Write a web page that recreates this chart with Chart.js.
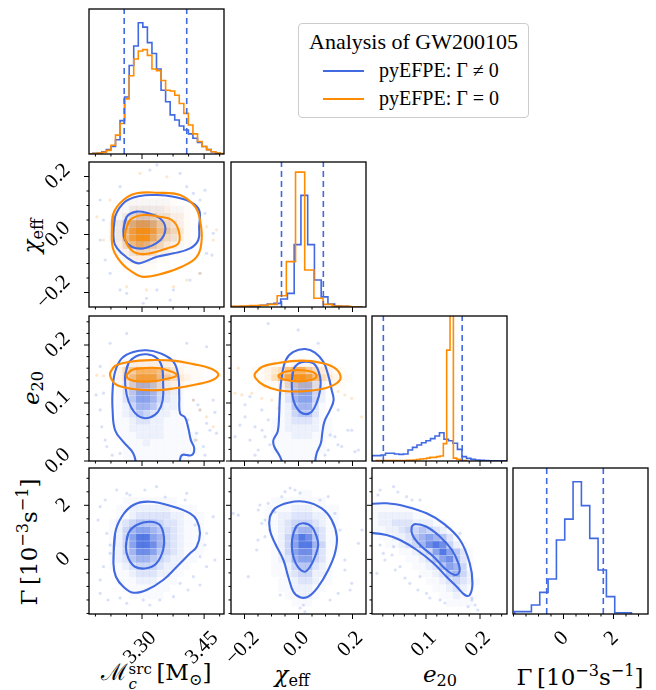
<!DOCTYPE html>
<html>
<head>
<meta charset="utf-8">
<script src="https://cdn.jsdelivr.net/npm/chart.js@4.4.0/dist/chart.umd.min.js"></script>
<style>
body{margin:0;background:#fff;width:656px;height:690px;position:relative;overflow:hidden}
.panel{position:absolute}
.t{position:absolute;transform:translate(-50%,-50%);font-family:'DejaVu Serif',serif;font-size:23px;white-space:nowrap;line-height:1;color:#000}
.t sub{font-size:0.7em;vertical-align:-0.3em}
.t sup{font-size:0.7em;vertical-align:0.55em}
.ty{transform:translate(-50%,-50%) rotate(-90deg)}
.st{display:inline-flex;flex-direction:column;font-size:0.65em;line-height:1;vertical-align:0.42em;margin-left:1px}
#legend{position:absolute;left:298px;top:23px;width:229px;height:93px;border:1px solid #ccc;border-radius:4px;background:#fff;font-family:'Liberation Serif',serif;color:#000}
#legend .lt{position:absolute;left:0;right:0;top:5px;text-align:center;font-size:22px}
#legend .le{position:absolute;left:80px;font-size:20px;line-height:1}
#legend .sw{position:absolute;left:24px;width:41px;height:2px}
</style>
</head>
<body>
<div id="legend">
  <div class="lt">Analysis of GW200105</div>
  <span class="sw" style="top:46px;background:#4169e1"></span>
  <div class="le" style="top:36px">pyEFPE: Γ ≠ 0</div>
  <span class="sw" style="top:74px;background:#ff8c00"></span>
  <div class="le" style="top:64px">pyEFPE: Γ = 0</div>
</div>

<div class="t" style="left:156px;top:676px"><span>ℳ</span><span class="st"><span>src</span><span><i>c</i></span></span>&thinsp;[M<sub>⊙</sub>]</div>
<div class="t" style="left:292px;top:676px"><i>χ</i><sub>eff</sub></div>
<div class="t" style="left:440px;top:676px"><i>e</i><sub>20</sub></div>
<div class="t" style="left:580px;top:676px">Γ&thinsp;[10<sup>−3</sup>s<sup>−1</sup>]</div>
<div class="t ty" style="left:33px;top:236px"><i>χ</i><sub>eff</sub></div>
<div class="t ty" style="left:33px;top:388px"><i>e</i><sub>20</sub></div>
<div class="t ty" style="left:28px;top:542px">Γ&thinsp;[10<sup>−3</sup>s<sup>−1</sup>]</div>

<script>
const blue = '#4169e1', orange = '#ff8c00';
const blueRgb = '65,105,225', orangeRgb = '255,140,0';

// axis ranges
const mcRange = [3.172, 3.498];
const chiRange = [-0.25, 0.25];
const eRange = [0, 0.25];
const gammaRange = [-2.02, 3.38];

// ticks
const mcMajor = [3.30, 3.45];
const mcMinor = [3.1875, 3.225, 3.2625, 3.3375, 3.375, 3.4125, 3.4875];
const mcLabels = ['3.30', '3.45'];
const chiMajor = [-0.2, 0, 0.2];
const chiMinor = [-0.15, -0.1, -0.05, 0.05, 0.1, 0.15];
const chiLabels = ['\u22120.2', '0.0', '0.2'];
const eMajorX = [0.1, 0.2];
const eLabelsX = ['0.1', '0.2'];
const eMajorY = [0, 0.1, 0.2];
const eLabelsY = ['0.0', '0.1', '0.2'];
const eMinor = [0.02, 0.04, 0.06, 0.08, 0.12, 0.14, 0.16, 0.18, 0.22, 0.24];
const gammaMajor = [0, 2];
const gammaMinor = [-2, -1.5, -1, -0.5, 0.5, 1, 1.5, 2.5, 3];
const gammaLabels = ['0', '2'];

// 1d histograms: [first edge, bin width] and bar heights (fraction of panel)
const mcBins = [3.170, 0.011];
const mcHistBlue = [0.002, 0.005, 0.007, 0.016, 0.03, 0.052, 0.098, 0.23, 0.393, 0.61, 0.745, 0.905, 0.875, 0.768, 0.693, 0.586, 0.44, 0.36, 0.27, 0.234, 0.193, 0.166, 0.139, 0.109, 0.08, 0.052, 0.03, 0.016, 0.007, 0.002];
const mcHistOrange = [0.002, 0.003, 0.006, 0.012, 0.025, 0.06, 0.13, 0.21, 0.38, 0.54, 0.655, 0.71, 0.72, 0.68, 0.586, 0.575, 0.507, 0.44, 0.434, 0.405, 0.348, 0.28, 0.2, 0.139, 0.086, 0.052, 0.03, 0.016, 0.007, 0.003];
const chiBinsBlue = [-0.241, 0.025];
const chiHistBlue = [0.003, 0.003, 0.005, 0.007, 0.012, 0.02, 0.025, 0.055, 0.094, 0.43, 0.77, 0.43, 0.186, 0.07, 0.02, 0.007, 0.004, 0.002, 0.001];
const chiBinsOrange = [-0.249, 0.034];
const chiHistOrange = [0.004, 0.006, 0.01, 0.012, 0.018, 0.078, 0.313, 0.93, 0.255, 0.06, 0.018, 0.007, 0.004, 0.002];
const eBinsBlue = [0, 0.00833];
const eHistBlue = [0.037, 0.037, 0.041, 0.053, 0.053, 0.048, 0.046, 0.048, 0.076, 0.094, 0.11, 0.126, 0.14, 0.154, 0.172, 0.195, 0.15, 0.14, 0.122, 0.08, 0.03, 0.018, 0.011, 0.007, 0.005, 0.003, 0.002, 0.002, 0.001, 0.001];
const eBinsOrange = [0.0081, 0.0062];
const eHistOrange = [0.003, 0.003, 0.003, 0.003, 0.003, 0.003, 0.003, 0.003, 0.003, 0.004, 0.005, 0.007, 0.01, 0.014, 0.016, 0.02, 0.025, 0.025, 0.03, 0.035, 0.12, 0.765, 1.5, 0.02, 0.012, 0.005, 0.003];
const gammaBins = [-1.95, 0.3333];
const gammaHist = [0.016, 0.016, 0.062, 0.148, 0.24, 0.507, 0.65, 0.906, 0.742, 0.518, 0.301, 0.119, 0.009, 0.009];

// dashed quantiles (blue run)
const mcQuant = [3.257, 3.408];
const chiQuant = [-0.063, 0.092];
const eQuant = [0.021, 0.167];
const gammaQuant = [-0.672, 1.592];

// 2d densities, 20x20 bins over the axis ranges, rows from top, 0-9
const mcChiBlue = [
  '00000000000000000000','00000000000000000000','00000000000000000000','00000000000000000000',
  '00000000000000000000','00000111111100000000','00001122222111000000','00001234432211000000',
  '00012356653221000000','00012357753321000000','00012346643221000000','00001234432111000000',
  '00001122221100000000','00000111110000000000','00000000000000000000','00000000000000000000',
  '00000000000000000000','00000000000000000000','00000000000000000000','00000000000000000000'];
const mcChiOrange = [
  '00000000000000000000','00000000000000000000','00000000000000000000','00000000000000000000',
  '00000000000000000000','00000111111110000000','00001122222211100000','00011234443322100000',
  '00012467765432100000','00012689986543100000','00012689975432100000','00012467654321100000',
  '00001234432211000000','00001122211100000000','00000111110000000000','00000000000000000000',
  '00000000000000000000','00000000000000000000','00000000000000000000','00000000000000000000'];
const mcEBlue = [
  '00000000000000000000','00000000000000000000','00000000000000000000','00000000000000000000',
  '00000000000000000000','00000000000000000000','00000111111100000000','00000122222110000000',
  '00000134443210000000','00001246653210000000','00001357764321000000','00001357764321000000',
  '00001246653221000000','00001235432211000000','00001123322111000000','00001122222111100000',
  '00001112222111110000','00000111211111110000','00000111111111110000','00000111111111100000'];
const mcEOrange = [
  '00000000000000000000','00000000000000000000','00000000000000000000','00000000000000000000',
  '00000000000000000000','00000000000000000000','00011122222221110000','00012457776432111000',
  '00012468886543211000','00001233333222110000','00000111111111000000','00000000000000000000',
  '00000000000000000000','00000000000000000000','00000000000000000000','00000000000000000000',
  '00000000000000000000','00000000000000000000','00000000000000000000','00000000000000000000'];
const chiEBlue = [
  '00000000000000000000','00000000000000000000','00000000000000000000','00000000000000000000',
  '00000000000000000000','00000000000000000000','00000000011110000000','00000000122210000000',
  '00000001234421000000','00000001356631000000','00000001367742000000','00000001367742000000',
  '00000001256631000000','00000001245531000000','00000011233321100000','00000011222221100000',
  '00000011122211100000','00000011111111000000','00000011111111000000','00000001111110000000'];
const chiEOrange = [
  '00000000000000000000','00000000000000000000','00000000000000000000','00000000000000000000',
  '00000000000000000000','00000000000000000000','00000011111111100000','00011234677543211000',
  '00011246899864321100','00001112333321111000','00000001111111000000','00000000000000000000',
  '00000000000000000000','00000000000000000000','00000000000000000000','00000000000000000000',
  '00000000000000000000','00000000000000000000','00000000000000000000','00000000000000000000'];
const mcGammaBlue = [
  '00000000000000000000','00000000000000000000','00000000000000000000','00000000000000000000',
  '00000111111110000000','00001122222211110000','00001123333322111000','00012345554332111000',
  '00012467765432111000','00012479976432111000','00012479986432111000','00012468875432111000',
  '00012356654322110000','00011234443221100000','00001123332211000000','00001112221110000000',
  '00000111111100000000','00000011111000000000','00000000000000000000','00000000000000000000'];
const chiGammaBlue = [
  '00000000000000000000','00000000000000000000','00000000000000000000','00000000001100000000',
  '00000011111111000000','00000111122211110000','00000112233322110000','00000112344432110000',
  '00000012356643110000','00000012479853110000','00000012479964110000','00000012478853110000',
  '00000012367743100000','00000011245532100000','00000011234422100000','00000001123321100000',
  '00000001122211000000','00000000112210000000','00000000011100000000','00000000000000000000'];
const eGammaBlue = [
  '00000000000000000000','00000000000000000000','00000000000000000000','00000000000000000000',
  '00000000000000000000','11111100000000000000','12222211100000000000','12233322211000000000',
  '11223445432100000000','01122356765310000000','00112346898421000000','00001123479753100000',
  '00000112357853100000','00000011235764100000','00000001123564200000','00000000112343210000',
  '00000000011232100000','00000000001121100000','00000000000111100000','00000000000000000000'];

// contours [x, y]
const mcChiBlueOuter = [[3.231,0.004],[3.235,0.062],[3.259,0.113],[3.295,0.133],[3.336,0.136],[3.376,0.130],[3.416,0.113],[3.438,0.084],[3.438,0.027],[3.436,-0.019],[3.416,-0.048],[3.376,-0.065],[3.336,-0.077],[3.295,-0.099],[3.279,-0.094],[3.251,-0.065],[3.235,-0.036]];
const mcChiBlueInner = [[3.255,0.016],[3.263,0.061],[3.287,0.079],[3.315,0.073],[3.343,0.056],[3.356,0.027],[3.351,-0.008],[3.335,-0.030],[3.303,-0.048],[3.275,-0.042],[3.259,-0.019]];
const mcChiOrangeOuter = [[3.227,0.004],[3.231,0.073],[3.255,0.119],[3.287,0.142],[3.336,0.144],[3.392,0.136],[3.428,0.096],[3.440,0.05],[3.444,-0.019],[3.432,-0.077],[3.396,-0.111],[3.351,-0.134],[3.303,-0.146],[3.275,-0.128],[3.251,-0.099],[3.231,-0.053]];
const mcChiOrangeInner = [[3.261,0.016],[3.271,0.05],[3.303,0.067],[3.343,0.061],[3.372,0.05],[3.388,0.016],[3.388,-0.030],[3.360,-0.048],[3.319,-0.065],[3.287,-0.065],[3.267,-0.042],[3.259,-0.013]];
const mcEBlueOuter = [[3.287,-0.01],[3.279,0.013],[3.255,0.033],[3.235,0.053],[3.229,0.088],[3.229,0.122],[3.235,0.154],[3.251,0.177],[3.279,0.188],[3.311,0.191],[3.343,0.186],[3.376,0.171],[3.388,0.145],[3.390,0.111],[3.392,0.082],[3.404,0.075],[3.412,0.056],[3.418,0.036],[3.426,0.022],[3.420,0.010],[3.396,0.010],[3.390,-0.01]];
const mcEBlueInner = [[3.259,0.145],[3.267,0.168],[3.287,0.181],[3.311,0.184],[3.335,0.178],[3.348,0.163],[3.351,0.134],[3.350,0.105],[3.339,0.085],[3.319,0.075],[3.295,0.076],[3.275,0.091],[3.263,0.114]];
const mcEOrangeOuter = [[3.223,0.152],[3.235,0.164],[3.271,0.171],[3.319,0.174],[3.376,0.173],[3.424,0.167],[3.464,0.160],[3.484,0.150],[3.472,0.140],[3.424,0.131],[3.376,0.125],[3.327,0.122],[3.279,0.124],[3.239,0.131],[3.227,0.140]];
const mcEOrangeInner = [[3.263,0.148],[3.275,0.157],[3.303,0.160],[3.343,0.160],[3.372,0.154],[3.384,0.148],[3.368,0.143],[3.335,0.138],[3.295,0.137],[3.271,0.140]];
const chiEBlueOuter = [[-0.053,-0.01],[-0.069,0.008],[-0.090,0.025],[-0.093,0.036],[-0.077,0.051],[-0.072,0.076],[-0.069,0.111],[-0.062,0.145],[-0.047,0.174],[-0.019,0.188],[0.024,0.193],[0.061,0.187],[0.092,0.171],[0.110,0.148],[0.123,0.122],[0.130,0.105],[0.117,0.088],[0.096,0.068],[0.088,0.048],[0.083,0.031],[0.067,0.013],[0.059,-0.01]];
const chiEBlueInner = [[-0.025,0.134],[-0.019,0.157],[-0.001,0.168],[0.030,0.171],[0.061,0.166],[0.080,0.145],[0.080,0.122],[0.067,0.100],[0.049,0.085],[0.024,0.081],[-0.001,0.088],[-0.019,0.105]];
const chiEOrangeOuter = [[-0.161,0.151],[-0.136,0.162],[-0.075,0.169],[0.012,0.173],[0.086,0.169],[0.135,0.160],[0.156,0.145],[0.141,0.134],[0.086,0.124],[0.012,0.120],[-0.075,0.122],[-0.130,0.131],[-0.159,0.143]];
const chiEOrangeInner = [[-0.075,0.147],[-0.05,0.154],[-0.001,0.157],[0.049,0.154],[0.067,0.147],[0.049,0.140],[-0.001,0.137],[-0.05,0.140]];
const mcGammaOuter = [[3.231,-0.145],[3.235,0.964],[3.251,1.578],[3.279,2.011],[3.319,2.133],[3.376,1.948],[3.416,1.704],[3.432,1.456],[3.440,0.964],[3.432,0.469],[3.416,0.225],[3.384,-0.271],[3.351,-0.763],[3.311,-1.132],[3.279,-1.232],[3.255,-1.010],[3.237,-0.641]];
const mcGammaInner = [[3.261,0.469],[3.267,0.964],[3.287,1.271],[3.319,1.393],[3.343,1.271],[3.353,0.839],[3.351,0.347],[3.335,-0.145],[3.311,-0.330],[3.283,-0.271],[3.267,0.040]];
const chiGammaOuter = [[-0.106,1.578],[-0.087,1.889],[-0.038,2.096],[0.024,2.133],[0.086,1.889],[0.123,1.456],[0.142,0.839],[0.135,0.225],[0.110,-0.393],[0.073,-1.010],[0.036,-1.380],[0.006,-1.402],[-0.019,-1.195],[-0.038,-0.641],[-0.056,-0.023],[-0.087,0.595],[-0.106,1.086]];
const chiGammaInner = [[-0.019,0.964],[-0.007,1.234],[0.018,1.334],[0.049,1.209],[0.067,0.839],[0.073,0.532],[0.061,0.099],[0.043,-0.271],[0.022,-0.456],[-0.003,-0.271],[-0.019,0.099],[-0.025,0.532]];
const eGammaOuter = [[-0.012,2.04],[0.027,2.074],[0.064,1.948],[0.101,1.704],[0.132,1.334],[0.163,0.717],[0.181,-0.145],[0.186,-0.885],[0.181,-1.317],[0.172,-1.317],[0.157,-1.010],[0.138,-0.641],[0.114,-0.145],[0.083,0.347],[0.052,0.717],[0.027,0.902],[-0.012,1.0]];
const eGammaInner = [[0.0735,1.209],[0.0796,1.308],[0.101,1.209],[0.126,0.839],[0.148,0.347],[0.160,-0.145],[0.162,-0.456],[0.154,-0.578],[0.138,-0.393],[0.114,0.099],[0.089,0.532],[0.075,0.902]];

// outlying samples
const mcChiBlueDots = [[3.303,-0.237],[3.311,-0.22],[3.440,0.119],[3.452,0.073],[3.472,0.004],[3.199,-0.019],[3.207,0.05],[3.336,0.24],[3.392,0.211],[3.408,0.165],[3.223,-0.134],[3.440,-0.134],[3.376,-0.191],[3.247,0.165],[3.456,-0.065],[3.263,-0.203],[3.336,-0.191],[3.424,0.142],[3.199,0.119],[3.211,-0.088],[3.452,0.153],[3.469,-0.071],[3.319,0.222],[3.368,-0.226],[3.247,-0.191],[3.416,-0.157]];
const mcChiOrangeDots = [[3.191,0.061],[3.207,-0.019],[3.472,-0.019],[3.456,0.027],[3.480,0.016],[3.295,0.211],[3.360,0.199],[3.376,-0.18],[3.263,-0.18],[3.440,-0.134],[3.223,0.119],[3.311,-0.191],[3.408,-0.157]];
const mcEBlueDots = [[3.199,0.163],[3.207,0.117],[3.203,0.059],[3.215,0.025],[3.247,0.013],[3.424,0.105],[3.440,0.088],[3.456,0.065],[3.432,0.048],[3.448,0.025],[3.472,0.105],[3.408,0.203],[3.263,0.22],[3.456,0.197],[3.480,0.048],[3.223,0.203],[3.411,0.071],[3.428,0.036],[3.464,0.053],[3.452,0.010],[3.476,0.084],[3.435,0.097],[3.199,0.088],[3.211,0.036],[3.189,0.114],[3.228,0.010]];
const mcEOrangeDots = [[3.191,0.148],[3.207,0.147],[3.488,0.148],[3.440,0.088],[3.456,0.076],[3.424,0.105],[3.472,0.059],[3.408,0.128],[3.432,0.036]];
const chiEBlueDots = [[-0.235,0.042],[-0.198,0.076],[-0.161,0.059],[-0.136,0.088],[-0.124,0.042],[-0.149,0.019],[-0.112,0.071],[-0.180,0.111],[0.135,0.042],[0.160,0.025],[0.197,0.053],[0.222,0.019],[0.110,0.019],[0.147,0.088],[-0.112,0.237],[-0.001,0.226],[0.073,0.203],[-0.217,0.062],[-0.180,0.036],[-0.135,0.053],[-0.106,0.028],[-0.161,0.010],[-0.198,0.097],[0.117,0.045],[0.146,0.028],[0.183,0.053],[0.209,0.016],[0.098,0.010]];
const chiEOrangeDots = [[-0.235,0.117],[-0.210,0.114],[-0.173,0.117],[-0.136,0.108],[-0.099,0.105],[-0.075,0.091],[-0.223,0.160],[0.172,0.114],[0.197,0.108],[0.147,0.120],[0.234,0.076],[-0.124,0.128]];
const mcGammaDots = [[3.239,2.566],[3.263,2.444],[3.199,1.948],[3.215,0.964],[3.207,-0.271],[3.408,2.444],[3.440,0.099],[3.456,-0.271],[3.424,-0.641],[3.392,-0.885],[3.263,-1.624],[3.303,-1.502],[3.456,0.964],[3.472,1.578],[3.199,-1.255],[3.376,-1.380],[3.335,2.688],[3.223,0.225],[3.211,2.196],[3.194,1.456],[3.223,0.532],[3.199,-0.763],[3.218,-1.502],[3.271,2.381],[3.307,2.566],[3.356,2.307],[3.428,1.271],[3.452,0.532],[3.440,-0.947],[3.411,-1.132],[3.343,-1.502],[3.319,-1.687],[3.247,-1.428],[3.476,-0.023],[3.404,2.196]];
const chiGammaDots = [[-0.242,1.704],[-0.223,1.640],[-0.149,1.826],[-0.136,1.334],[-0.124,0.839],[-0.155,0.347],[-0.112,2.074],[-0.05,2.503],[-0.013,2.566],[-0.062,2.318],[0.110,2.318],[0.135,1.704],[0.172,-0.393],[0.197,-0.885],[0.147,-1.255],[0.018,-1.687],[0.024,-1.935],[0.222,0.595],[-0.186,-0.641],[-0.143,2.011],[-0.124,1.456],[-0.106,1.086],[-0.150,0.717],[-0.087,1.752],[-0.031,2.640],[0.006,2.455],[0.080,2.196],[0.154,1.086],[0.172,-0.023],[0.191,-1.132],[0.117,-1.502],[0.006,-1.798],[-0.068,-1.317],[0.235,1.086]];
const eGammaDots = [[0.015,2.566],[0.040,2.688],[0.064,2.318],[0.089,2.196],[0.021,0.225],[0.052,-0.271],[0.070,-0.885],[0.101,-1.255],[0.126,-1.502],[0.009,-0.515],[0.040,0.469],[0.185,-1.502],[0.191,-1.687],[0.178,-1.750],[0.138,1.209],[0.163,0.964],[0.089,-0.641],[0.011,2.381],[0.048,2.492],[0.074,2.196],[0.024,-0.023],[0.043,-0.393],[0.061,-0.689],[0.085,-1.132],[0.107,-1.428],[0.135,-1.613],[0.015,0.532],[0.037,0.162],[0.185,-1.428],[0.196,-1.872]];

// panel layout in the page
const colX = [89, 231, 372, 513];
const rowTop = [9, 162, 316, 468];
const rowBot = [154, 307, 461, 614];
const colW = 135;
const PADL = 72, PADT = 4, PADR = 4, PADB = 62;

const mcAxis = {range: mcRange, major: mcMajor, minor: mcMinor, labels: mcLabels};
const chiAxis = {range: chiRange, major: chiMajor, minor: chiMinor, labels: chiLabels};
const eAxisX = {range: eRange, major: eMajorX, minor: eMinor, labels: eLabelsX};
const eAxisY = {range: eRange, major: eMajorY, minor: eMinor, labels: eLabelsY};
const gammaAxis = {range: gammaRange, major: gammaMajor, minor: gammaMinor, labels: gammaLabels};
const histAxis = {range: [0, 1]};

function axesPlugin(xa, ya, xLab, yLab) {
    return {
        id: 'cornerAxes',
        afterDatasetsDraw(chart) {
            const ctx = chart.ctx, a = chart.chartArea;
            const sx = chart.scales.x, sy = chart.scales.y;
            ctx.save();
            ctx.strokeStyle = '#000';
            ctx.lineWidth = 1;
            ctx.beginPath();
            xa.major.forEach(v => { const p = sx.getPixelForValue(v); ctx.moveTo(p, a.bottom); ctx.lineTo(p, a.bottom + 5); });
            xa.minor.forEach(v => { const p = sx.getPixelForValue(v); ctx.moveTo(p, a.bottom); ctx.lineTo(p, a.bottom + 2.5); });
            if (ya.major) {
                ya.major.forEach(v => { const p = sy.getPixelForValue(v); ctx.moveTo(a.left, p); ctx.lineTo(a.left - 5, p); });
                ya.minor.forEach(v => { const p = sy.getPixelForValue(v); ctx.moveTo(a.left, p); ctx.lineTo(a.left - 2.5, p); });
            }
            ctx.stroke();

            ctx.fillStyle = '#000';
            ctx.font = '21px "Liberation Serif", "Times New Roman", serif';
            ctx.textAlign = 'center';
            ctx.textBaseline = 'middle';
            const rotText = (t, cx, cy) => {
                ctx.save();
                ctx.translate(cx, cy);
                ctx.rotate(-Math.PI / 4);
                ctx.fillText(t, 0, 0);
                ctx.restore();
            };
            if (xLab) {
                xa.major.forEach((v, i) => {
                    const t = xa.labels[i], p = sx.getPixelForValue(v);
                    const b = (ctx.measureText(t).width + 14) * Math.SQRT1_2;
                    rotText(t, p - 2, a.bottom + 16 + b / 2);
                });
            }
            if (yLab) {
                ya.major.forEach((v, i) => {
                    const t = ya.labels[i], p = sy.getPixelForValue(v);
                    const b = (ctx.measureText(t).width + 14) * Math.SQRT1_2;
                    rotText(t, a.left - 17 - b / 2, p);
                });
            }
            ctx.lineWidth = 1.3;
            ctx.strokeRect(a.left, a.top, a.right - a.left, a.bottom - a.top);
            ctx.restore();
        }
    };
}

function panel(row, col, xa, ya, datasets, xLab, yLab) {
    const w = colW + PADL + PADR, h = rowBot[row] - rowTop[row] + PADT + PADB;
    const box = document.createElement('div');
    box.className = 'panel';
    box.style.left = (colX[col] - PADL) + 'px';
    box.style.top = (rowTop[row] - PADT) + 'px';
    const cv = document.createElement('canvas');
    cv.width = w; cv.height = h;
    cv.style.width = w + 'px'; cv.style.height = h + 'px';
    box.appendChild(cv);
    document.body.appendChild(box);
    new Chart(cv.getContext('2d'), {
        type: 'scatter',
        data: {datasets: datasets},
        options: {
            responsive: false,
            animation: false,
            events: [],
            layout: {padding: {left: PADL, top: PADT, right: PADR, bottom: PADB}},
            scales: {
                x: {type: 'linear', display: false, min: xa.range[0], max: xa.range[1]},
                y: {type: 'linear', display: false, min: ya.range[0], max: ya.range[1]}
            },
            plugins: {legend: {display: false}, tooltip: {enabled: false}}
        },
        plugins: [axesPlugin(xa, ya, xLab, yLab)]
    });
}

function histSet(bins, heights, color, order) {
    const x0 = bins[0], bw = bins[1];
    const pts = [{x: x0, y: 0}];
    heights.forEach((v, i) => pts.push({x: x0 + i * bw, y: v}));
    pts.push({x: x0 + heights.length * bw, y: 0});
    return {type: 'line', data: pts, stepped: true, borderColor: color, borderWidth: 1.6,
        pointRadius: 0, fill: false, clip: 0, order: order};
}

function quantSets(q) {
    return q.map(v => ({type: 'line', data: [{x: v, y: 0}, {x: v, y: 1}], borderColor: blue,
        borderWidth: 1.6, borderDash: [6, 4], pointRadius: 0, fill: false, clip: 0, order: 1}));
}

function densitySet(grid, xr, yr, rgb, order) {
    const dx = (xr[1] - xr[0]) / 20, dy = (yr[1] - yr[0]) / 20;
    const pts = [];
    grid.forEach((rowStr, j) => {
        for (let i = 0; i < rowStr.length; i++) {
            const v = +rowStr[i];
            if (v > 0) pts.push({x: xr[0] + (i + 0.5) * dx, y: yr[1] - (j + 0.5) * dy, v: v});
        }
    });
    return {
        type: 'scatter', data: pts, order: order, clip: 0,
        pointStyle: 'rect', pointBorderWidth: 0,
        pointBackgroundColor: c => c.raw ? 'rgba(' + rgb + ',' + (Math.pow(c.raw.v / 9, 1.5) * 0.9).toFixed(3) + ')' : 'rgba(0,0,0,0)',
        pointRadius: c => {
            const ch = c.chart;
            const wpx = Math.abs(ch.scales.x.getPixelForValue(xr[0] + dx) - ch.scales.x.getPixelForValue(xr[0]));
            const hpx = Math.abs(ch.scales.y.getPixelForValue(yr[0] + dy) - ch.scales.y.getPixelForValue(yr[0]));
            return (wpx + hpx) / 4 / Math.SQRT1_2;
        }
    };
}

function dotSet(pts, rgb, order) {
    return {type: 'scatter', data: pts.map(p => ({x: p[0], y: p[1]})), order: order, clip: 0,
        pointRadius: 1.6, pointBorderWidth: 0, pointBackgroundColor: 'rgba(' + rgb + ',0.2)'};
}

function contourSet(pts, color, order, open) {
    const d = pts.map(p => ({x: p[0], y: p[1]}));
    if (!open) d.push(d[0], d[1]);
    return {type: 'line', data: d, borderColor: color, borderWidth: 2.1, tension: 0.4,
        pointRadius: 0, fill: false, clip: 0, order: order};
}

// diagonal
panel(0, 0, mcAxis, histAxis, [histSet(mcBins, mcHistBlue, blue, 3), histSet(mcBins, mcHistOrange, orange, 2), ...quantSets(mcQuant)], false, false);
panel(1, 1, chiAxis, histAxis, [histSet(chiBinsBlue, chiHistBlue, blue, 3), histSet(chiBinsOrange, chiHistOrange, orange, 2), ...quantSets(chiQuant)], false, false);
panel(2, 2, eAxisX, histAxis, [histSet(eBinsBlue, eHistBlue, blue, 3), histSet(eBinsOrange, eHistOrange, orange, 2), ...quantSets(eQuant)], false, false);
panel(3, 3, gammaAxis, histAxis, [histSet(gammaBins, gammaHist, blue, 3), ...quantSets(gammaQuant)], true, false);

// off-diagonal
panel(1, 0, mcAxis, chiAxis, [
    dotSet(mcChiBlueDots, blueRgb, 9), densitySet(mcChiBlue, mcRange, chiRange, blueRgb, 8),
    dotSet(mcChiOrangeDots, orangeRgb, 7), densitySet(mcChiOrange, mcRange, chiRange, orangeRgb, 6),
    contourSet(mcChiBlueOuter, blue, 3), contourSet(mcChiBlueInner, blue, 3),
    contourSet(mcChiOrangeOuter, orange, 2), contourSet(mcChiOrangeInner, orange, 2)], false, true);
panel(2, 0, mcAxis, eAxisY, [
    dotSet(mcEBlueDots, blueRgb, 9), densitySet(mcEBlue, mcRange, eRange, blueRgb, 8),
    dotSet(mcEOrangeDots, orangeRgb, 7), densitySet(mcEOrange, mcRange, eRange, orangeRgb, 6),
    contourSet(mcEBlueOuter, blue, 3, true), contourSet(mcEBlueInner, blue, 3),
    contourSet(mcEOrangeOuter, orange, 2), contourSet(mcEOrangeInner, orange, 2)], false, true);
panel(2, 1, chiAxis, eAxisY, [
    dotSet(chiEBlueDots, blueRgb, 9), densitySet(chiEBlue, chiRange, eRange, blueRgb, 8),
    dotSet(chiEOrangeDots, orangeRgb, 7), densitySet(chiEOrange, chiRange, eRange, orangeRgb, 6),
    contourSet(chiEBlueOuter, blue, 3, true), contourSet(chiEBlueInner, blue, 3),
    contourSet(chiEOrangeOuter, orange, 2), contourSet(chiEOrangeInner, orange, 2)], false, false);
panel(3, 0, mcAxis, gammaAxis, [
    dotSet(mcGammaDots, blueRgb, 9), densitySet(mcGammaBlue, mcRange, gammaRange, blueRgb, 8),
    contourSet(mcGammaOuter, blue, 3), contourSet(mcGammaInner, blue, 3)], true, true);
panel(3, 1, chiAxis, gammaAxis, [
    dotSet(chiGammaDots, blueRgb, 9), densitySet(chiGammaBlue, chiRange, gammaRange, blueRgb, 8),
    contourSet(chiGammaOuter, blue, 3), contourSet(chiGammaInner, blue, 3)], true, false);
panel(3, 2, eAxisX, gammaAxis, [
    dotSet(eGammaDots, blueRgb, 9), densitySet(eGammaBlue, eRange, gammaRange, blueRgb, 8),
    contourSet(eGammaOuter, blue, 3, true), contourSet(eGammaInner, blue, 3)], true, false);
</script>
</body>
</html>
